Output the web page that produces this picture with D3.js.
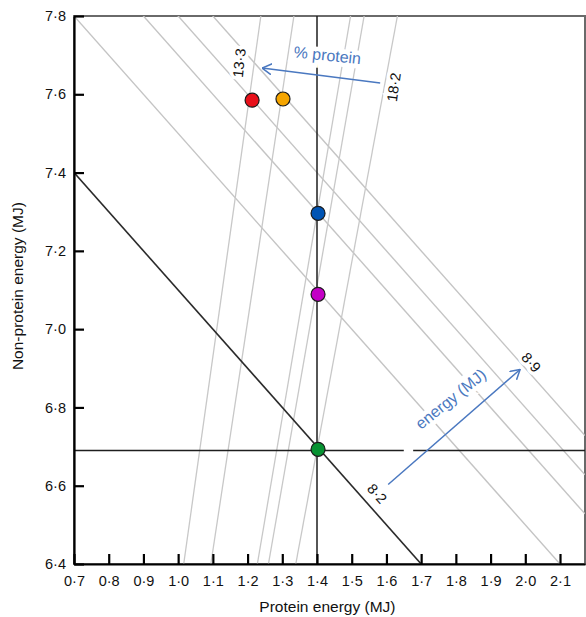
<!DOCTYPE html>
<html>
<head>
<meta charset="utf-8">
<script src="https://cdn.jsdelivr.net/npm/d3@7"></script>
<style>
  body { margin: 0; background: #fff; }
  svg { font-family: "Liberation Sans", Arial, sans-serif; }
</style>
</head>
<body>
<svg width="586" height="617"></svg>
<script>
// energy iso-lines (protein + non-protein, MJ)
var energyLines = [8.5, 8.7, 8.8, 8.9];
var energyDark = [8.1];
// % protein iso-lines, protein / (protein + non-protein)
var proteinLines = [13.7, 14.6, 16.1, 16.45, 17.3];
// reference cross
var refX = 1.4;
var refY = 6.69;
var refYGap = [1.65, 1.677];
// points
var pointsX = [1.213, 1.302, 1.403, 1.403, 1.403];
var pointsY = [7.585, 7.588, 7.296, 7.089, 6.693];
var pointColors = ["#e8101a", "#f5a500", "#0054b4", "#c400c6", "#079232"];
// labels
var lineLabels = ["13·3", "18·2", "8·2", "8·9"];
var lineLabelX = [1.176, 1.621, 1.573, 2.017];
var lineLabelY = [7.68, 7.618, 6.58, 6.915];
var lineLabelRot = [-84, -82, 48, 48];
// arrows [x1, y1, x2, y2]
var proteinArrow = [1.582, 7.629, 1.242, 7.667];
var energyArrow = [1.605, 6.603, 1.985, 6.897];
var xTicks = [0.7, 0.8, 0.9, 1.0, 1.1, 1.2, 1.3, 1.4, 1.5, 1.6, 1.7, 1.8, 1.9, 2.0, 2.1];
var yTicks = [6.4, 6.6, 6.8, 7.0, 7.2, 7.4, 7.6, 7.8];

var svg = d3.select("svg");
var margin = {top: 16, right: 1, bottom: 53, left: 74},
    width = +svg.attr("width") - margin.left - margin.right,
    height = +svg.attr("height") - margin.top - margin.bottom;

var x = d3.scaleLinear().domain([0.7, 2.172]).range([0, width]);
var y = d3.scaleLinear().domain([6.4, 7.8]).range([height, 0]);
var X0 = x.domain()[0], X1 = x.domain()[1];
var Y0 = y.domain()[0], Y1 = y.domain()[1];

var g = svg.append("g")
    .attr("transform", "translate(" + margin.left + "," + margin.top + ")");

svg.append("defs").append("clipPath").attr("id", "plot")
  .append("rect").attr("width", width).attr("height", height);

svg.select("defs").append("marker")
    .attr("id", "head")
    .attr("viewBox", "0 0 10 12")
    .attr("refX", 9.5).attr("refY", 6)
    .attr("markerWidth", 10).attr("markerHeight", 12)
    .attr("markerUnits", "userSpaceOnUse")
    .attr("orient", "auto")
  .append("path")
    .attr("d", "M0,0.5 L9.5,6 L0,11.5")
    .attr("fill", "none")
    .attr("stroke", "#4a78c0")
    .attr("stroke-width", 1.5);

// border
g.append("rect")
    .attr("width", width).attr("height", height)
    .attr("fill", "none").attr("stroke", "#6a6a6a").attr("stroke-width", 2);

var lines = g.append("g").attr("clip-path", "url(#plot)");

// gray energy lines
lines.selectAll(".energy")
  .data(energyLines)
  .enter().append("line")
    .attr("x1", x(X0)).attr("y1", function(d) { return y(d - X0); })
    .attr("x2", x(X1)).attr("y2", function(d) { return y(d - X1); })
    .attr("stroke", "#c4c4c4").attr("stroke-width", 1.4);

// % protein lines
lines.selectAll(".protein")
  .data(proteinLines)
  .enter().append("line")
    .attr("x1", function(d) { return x(Y0 * d / (100 - d)); }).attr("y1", y(Y0))
    .attr("x2", function(d) { return x(Y1 * d / (100 - d)); }).attr("y2", y(Y1))
    .attr("stroke", "#c8c8c8").attr("stroke-width", 1.3);

// dark energy line
lines.selectAll(".dark")
  .data(energyDark)
  .enter().append("line")
    .attr("x1", x(X0)).attr("y1", function(d) { return y(d - X0); })
    .attr("x2", x(X1)).attr("y2", function(d) { return y(d - X1); })
    .attr("stroke", "#2a2a2a").attr("stroke-width", 1.6);

// reference cross
lines.append("line")
    .attr("x1", x(refX)).attr("x2", x(refX))
    .attr("y1", y(Y0)).attr("y2", y(Y1))
    .attr("stroke", "#1e1e1e").attr("stroke-width", 1.5);
lines.selectAll(".href")
  .data([[X0, refYGap[0]], [refYGap[1], X1]])
  .enter().append("line")
    .attr("x1", function(d) { return x(d[0]); })
    .attr("x2", function(d) { return x(d[1]); })
    .attr("y1", y(refY)).attr("y2", y(refY))
    .attr("stroke", "#1e1e1e").attr("stroke-width", 1.5);

// line labels with white halo
g.selectAll(".lbl")
  .data(lineLabels)
  .enter().append("text")
    .attr("transform", function(d, i) {
      return "translate(" + x(lineLabelX[i]) + "," + y(lineLabelY[i]) + ") rotate(" + lineLabelRot[i] + ")";
    })
    .attr("text-anchor", "middle")
    .attr("dy", "0.35em")
    .attr("font-size", 14.5)
    .attr("fill", "#111")
    .attr("stroke", "#fff").attr("stroke-width", 7)
    .attr("paint-order", "stroke")
    .text(function(d) { return d; });

// arrow captions
g.append("text")
    .attr("transform", "translate(" + x(1.43) + "," + y(7.70) + ") rotate(6)")
    .attr("text-anchor", "middle").attr("dy", "0.35em")
    .attr("font-size", 16).attr("fill", "#4a78c0")
    .attr("stroke", "#fff").attr("stroke-width", 9).attr("paint-order", "stroke")
    .text("% protein");
g.append("text")
    .attr("transform", "translate(" + x(1.785) + "," + y(6.822) + ") rotate(-39)")
    .attr("text-anchor", "middle").attr("dy", "0.35em")
    .attr("font-size", 16).attr("fill", "#4a78c0")
    .attr("stroke", "#fff").attr("stroke-width", 9).attr("paint-order", "stroke")
    .text("energy (MJ)");

// arrows
g.selectAll(".arrow")
  .data([proteinArrow, energyArrow])
  .enter().append("line")
    .attr("x1", function(d) { return x(d[0]); })
    .attr("y1", function(d) { return y(d[1]); })
    .attr("x2", function(d) { return x(d[2]); })
    .attr("y2", function(d) { return y(d[3]); })
    .attr("stroke", "#4a78c0").attr("stroke-width", 1.5)
    .attr("marker-end", "url(#head)");

// axes
var fmt = function(d) { return d3.format(".1f")(d).replace(".", "·"); };
var xAxis = g.append("g")
    .attr("transform", "translate(0," + height + ")")
    .call(d3.axisBottom(x).tickValues(xTicks).tickFormat(fmt)
      .tickSizeInner(-10).tickSizeOuter(0).tickPadding(12));
var yAxis = g.append("g")
    .call(d3.axisLeft(y).tickValues(yTicks).tickFormat(fmt)
      .tickSizeInner(-10).tickSizeOuter(0).tickPadding(8));
[xAxis, yAxis].forEach(function(a) {
  a.select(".domain").attr("stroke", "#000").attr("stroke-width", 2.2);
  a.selectAll(".tick line").attr("stroke", "#000").attr("stroke-width", 2.2);
  a.selectAll(".tick text").attr("font-size", 14.5).attr("fill", "#111")
    .style("font-family", "'Liberation Sans', Arial, sans-serif");
});

svg.append("text")
    .attr("x", margin.left + x(1.43)).attr("y", 612)
    .attr("text-anchor", "middle").attr("font-size", 15.5).attr("fill", "#111")
    .text("Protein energy (MJ)");
svg.append("text")
    .attr("transform", "translate(23," + (margin.top + y(7.11)) + ") rotate(-90)")
    .attr("text-anchor", "middle").attr("font-size", 15.5).attr("fill", "#111")
    .text("Non-protein energy (MJ)");

// points
g.selectAll(".pt")
  .data(pointsX)
  .enter().append("circle")
    .attr("cx", function(d) { return x(d); })
    .attr("cy", function(d, i) { return y(pointsY[i]); })
    .attr("r", 7)
    .attr("fill", function(d, i) { return pointColors[i]; })
    .attr("stroke", "#1a1a1a").attr("stroke-width", 1.2);
</script>
</body>
</html>
